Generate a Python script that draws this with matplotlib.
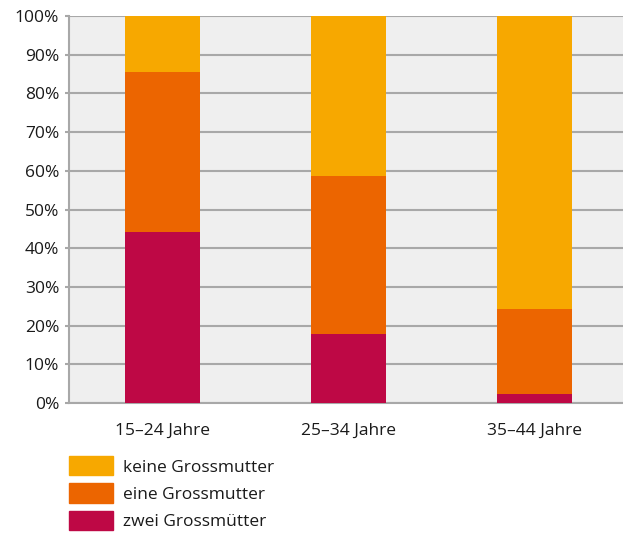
import numpy as np
import matplotlib.pyplot as plt
from matplotlib.patches import Patch

plt.rcParams['font.family'] = ['Open Sans', 'DejaVu Sans']

# Anteile in Prozent je Altersgruppe
groups = ['15–24 Jahre', '25–34 Jahre', '35–44 Jahre']
zwei = [44.2, 17.8, 2.3]
eine = [41.3, 40.9, 22.0]
keine = [14.5, 41.3, 75.7]

c_zwei = '#BE0845'
c_eine = '#EC6500'
c_keine = '#F7A800'
grid_c = '#A8A8A8'
fs = 12.5

fig = plt.figure(figsize=(6.23, 5.36), dpi=100)
ax = fig.add_axes([69 / 623, 1 - 403 / 536, 554 / 623, 387 / 536])
ax.set_facecolor('#EFEFEF')

x = np.arange(len(groups))
w = 0.403
zwei = np.array(zwei)
eine = np.array(eine)
keine = np.array(keine)
ax.bar(x, zwei, w, color=c_zwei, zorder=3)
ax.bar(x, eine, w, bottom=zwei, color=c_eine, zorder=3)
ax.bar(x, keine, w, bottom=zwei + eine, color=c_keine, zorder=3)

ax.set_xlim(-0.503, 2.476)
ax.set_ylim(0, 100)
ax.set_yticks(np.arange(0, 101, 10))
ax.set_yticklabels([f'{v}%' for v in range(0, 101, 10)])
ax.yaxis.grid(True, color=grid_c, lw=1.5, zorder=1)
ax.set_xticks(x)
ax.set_xticklabels(groups)

for s in ['top', 'right']:
    ax.spines[s].set_visible(False)
ax.spines['left'].set_color(grid_c)
ax.spines['left'].set_linewidth(1.5)
ax.spines['bottom'].set_color(grid_c)
ax.spines['bottom'].set_linewidth(1.5)
ax.tick_params(axis='y', length=3, width=1.5, color=grid_c, labelsize=fs,
               labelcolor='#1a1a1a', pad=4)
ax.tick_params(axis='x', length=0, labelsize=fs, labelcolor='#1a1a1a', pad=14)

handles = [Patch(color=c_keine), Patch(color=c_eine), Patch(color=c_zwei)]
labels = ['keine Grossmutter', 'eine Grossmutter', 'zwei Grossmütter']
fig.legend(handles, labels, loc='upper left',
           bbox_to_anchor=(69 / 623, 1 - 456 / 536), frameon=False,
           fontsize=fs, handlelength=44 / (fs * 1.389), handleheight=1.35,
           labelspacing=0.45, handletextpad=0.55, borderpad=0,
           borderaxespad=0, labelcolor='#1a1a1a')

plt.savefig('out.png', dpi=100)
